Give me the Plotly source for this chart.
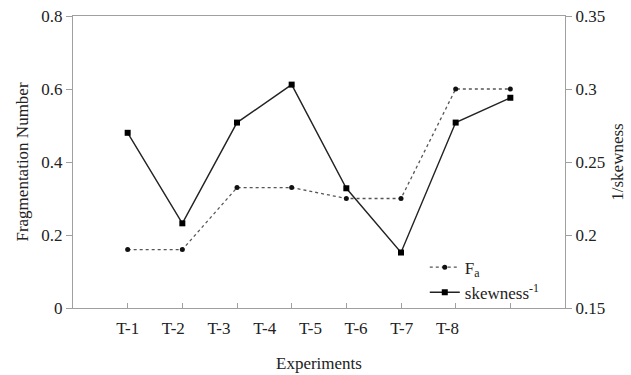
import plotly.graph_objects as go

experiments = ["T-1", "T-2", "T-3", "T-4", "T-5", "T-6", "T-7", "T-8"]
fa_values = [0.16, 0.16, 0.33, 0.33, 0.30, 0.30, 0.60, 0.60]
inv_skew_values = [0.270, 0.208, 0.277, 0.303, 0.232, 0.188, 0.277, 0.294]
left_ticks = [0, 0.2, 0.4, 0.6, 0.8]
left_tick_text = ["0", "0.2", "0.4", "0.6", "0.8"]
right_ticks = [0.15, 0.2, 0.25, 0.3, 0.35]
right_tick_text = ["0.15", "0.2", "0.25", "0.3", "0.35"]

n = len(experiments)
xpos = list(range(1, n + 1))
# labels in the original are spread evenly but compressed relative to ticks
label_span = 5.85
label_pos = [1 + k * label_span / (n - 1) for k in range(n)]

FONT = "Liberation Serif, Times New Roman, serif"
AX = "#a0a0a0"
TF = dict(family=FONT, size=17, color="#222222")

fig = go.Figure()
fig.add_trace(go.Scatter(
    x=xpos, y=fa_values, name="F<sub>a</sub>", mode="lines+markers",
    line=dict(color="#555555", width=1.3, dash="dot"),
    marker=dict(symbol="circle", size=5, color="#111111"),
    xaxis="x", yaxis="y"))
fig.add_trace(go.Scatter(
    x=xpos, y=inv_skew_values, name="skewness<sup>-1</sup>", mode="lines+markers",
    line=dict(color="#222222", width=1.4),
    marker=dict(symbol="square", size=6, color="#000000"),
    xaxis="x", yaxis="y2"))
fig.add_trace(go.Scatter(
    x=label_pos, y=[None] * n, mode="markers", showlegend=False,
    hoverinfo="skip", xaxis="x2", yaxis="y"))

fig.update_layout(
    width=631, height=375,
    margin=dict(l=73, r=66, t=16, b=67, autoexpand=False),
    paper_bgcolor="white", plot_bgcolor="white",
    font=dict(family=FONT, size=17, color="#222222"),
    showlegend=True,
    legend=dict(x=0.715, y=0.2, xanchor="left", yanchor="top",
                bgcolor="rgba(0,0,0,0)", font=dict(family=FONT, size=17),
                tracegroupgap=0, itemwidth=30),
    xaxis=dict(range=[0, 9], tickvals=xpos, showticklabels=False,
               ticks="inside", ticklen=5, tickcolor=AX, automargin=False,
               showline=True, linecolor=AX, linewidth=1, mirror=True,
               showgrid=False, zeroline=False),
    xaxis2=dict(range=[0, 9], overlaying="x", side="bottom", automargin=False,
                tickvals=label_pos, ticktext=experiments,
                ticks="", showline=False, showgrid=False, zeroline=False,
                tickfont=TF, ticklabelstandoff=8,
                title=dict(text="Experiments", font=TF, standoff=20)),
    yaxis=dict(range=[0, 0.8], tickvals=left_ticks, ticktext=left_tick_text,
               ticks="outside", ticklen=6, tickcolor=AX, tickfont=TF,
               showline=True, linecolor=AX, linewidth=1, automargin=False,
               showgrid=False, zeroline=False,
               title=dict(text="Fragmentation Number", font=TF, standoff=8)),
    yaxis2=dict(range=[0.15, 0.35], overlaying="y", side="right",
                tickvals=right_ticks, ticktext=right_tick_text,
                ticks="outside", ticklen=6, tickcolor=AX, tickfont=TF,
                showline=True, linecolor=AX, linewidth=1, automargin=False,
                showgrid=False, zeroline=False,
                title=dict(text="1/skewness", font=TF, standoff=6)),
)

fig.write_html("out.html")
